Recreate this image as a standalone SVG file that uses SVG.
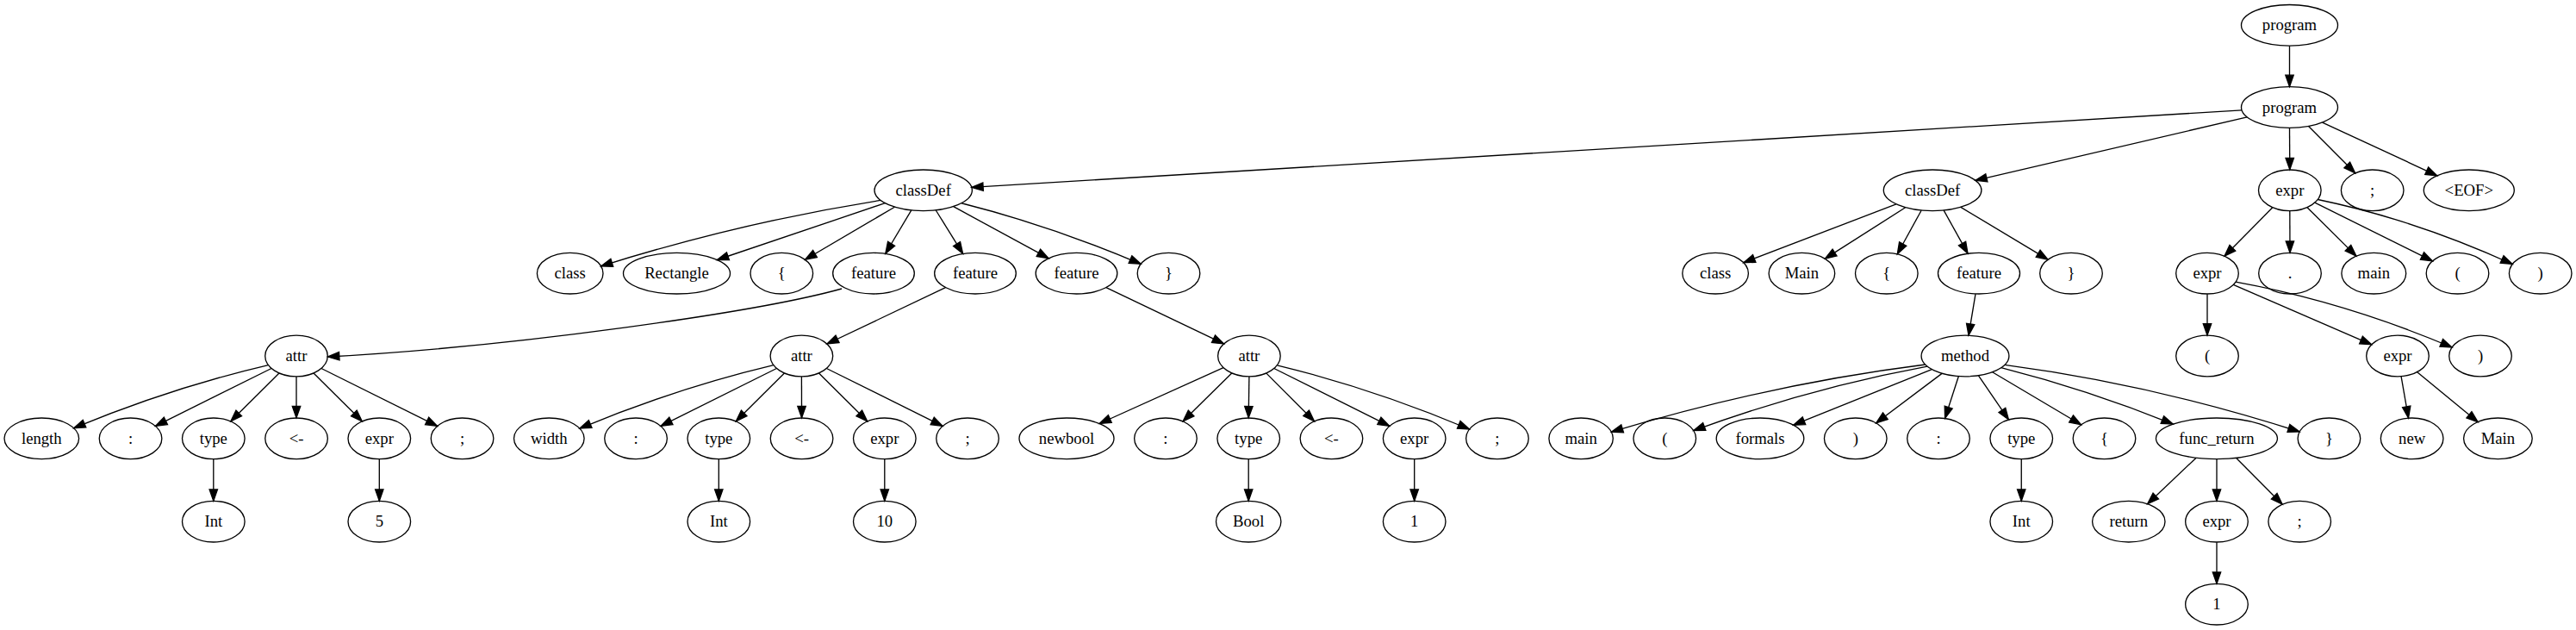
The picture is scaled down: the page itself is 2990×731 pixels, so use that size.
<svg xmlns="http://www.w3.org/2000/svg" width="2990" height="731" viewBox="0 0 2990 731">
<style>
.n ellipse{fill:none;stroke:#000;stroke-width:1.33}
.n text{font-family:"Liberation Serif","Times New Roman",serif;font-size:18.7px;text-anchor:middle;fill:#000}
#edges path{fill:none;stroke:#000;stroke-width:1.33;marker-end:url(#arr)}
</style>
<defs>
<marker id="arr" markerUnits="userSpaceOnUse" markerWidth="16" markerHeight="12" refX="13.3" refY="4.7" orient="auto" overflow="visible">
<path d="M0,0 L13.3,4.7 L0,9.4 Z" fill="#000" stroke="#000" stroke-width="1.33"/>
</marker>
</defs>
<rect width="2990" height="731" fill="#fff"/>
<g id="edges">
<path d="M2657.5,53.3 L2657.5,100.5"/>
<path d="M2602.05,127.86 L1127.83,217.4"/>
<path d="M2608.2,135.9 L2292.9,209.3"/>
<path d="M2657.5,148.5 L2657.8,196.8"/>
<path d="M2679.6,146.55 L2733.65,200.8"/>
<path d="M2695.6,142.1 L2828.8,203.8"/>
<path d="M1022.1,232.4 Q859.85,258 697.6,308.8"/>
<path d="M1027.25,235.7 L832.35,301.5"/>
<path d="M1038.4,240.2 L934.5,301.3"/>
<path d="M1057.7,244.1 L1027.8,294.25"/>
<path d="M1086.3,244 L1117.6,294.3"/>
<path d="M1106.7,239.7 L1217.1,299.7"/>
<path d="M1116.05,235.75 Q1220,262 1324.2,306.3"/>
<path d="M2200.9,236.9 L2023.8,304.7"/>
<path d="M2211.6,240.8 L2118.35,300.15"/>
<path d="M2230.1,244.2 L2202.3,294.7"/>
<path d="M2256.2,244.15 L2284,294.1"/>
<path d="M2275.9,240.4 L2377.05,301.1"/>
<path d="M2637.8,240.8 L2582,297.2"/>
<path d="M2657.8,244.8 L2658,293.2"/>
<path d="M2678,240.7 L2734.9,297.1"/>
<path d="M2686.9,235.15 L2823.4,302.85"/>
<path d="M2690.3,231.5 Q2803.25,255 2916.2,306.5"/>
<path d="M977,335 C880,362 600,402 380.5,414"/>
<path d="M1097.5,333.6 L960,399"/>
<path d="M1283.9,333.7 L1420.5,398.9"/>
<path d="M2293,341.1 L2285,389.1"/>
<path d="M2562,341.2 L2562,389"/>
<path d="M2592.3,330.4 L2752.7,399.8"/>
<path d="M2595,327.2 Q2720.5,350 2846,403"/>
<path d="M311.4,423.6 Q198.55,450 85.7,496.7"/>
<path d="M315,427.5 L180.5,494.3"/>
<path d="M324,433 L267.85,488.8"/>
<path d="M344,437 L344,484.8"/>
<path d="M364.05,433 L420.25,488.8"/>
<path d="M373,427.5 L507.55,494.3"/>
<path d="M897.9,423.7 Q785.4,450.4 672.9,497.1"/>
<path d="M901.4,427.5 L767,494.3"/>
<path d="M910.4,433 L854.3,488.8"/>
<path d="M930.4,437 L930.55,484.8"/>
<path d="M950.5,433 L1006.7,488.8"/>
<path d="M959.4,427.5 L1094.1,494.3"/>
<path d="M1419.95,426.6 L1276.2,491.5"/>
<path d="M1429.7,433 L1373.1,488.8"/>
<path d="M1449.9,437 L1449.2,484.8"/>
<path d="M1469.9,433.1 L1525.5,488.75"/>
<path d="M1478.8,427.5 L1612.8,494.3"/>
<path d="M1482.3,423.8 Q1593.9,450.9 1705.5,498"/>
<path d="M2234.7,423 Q2052.55,446 1870.4,501.2"/>
<path d="M2237.05,425.1 Q2101.4,450 1965.75,499.6"/>
<path d="M2242.3,428.6 L2081.65,493.2"/>
<path d="M2254,433.35 L2177.7,490.75"/>
<path d="M2273.3,436.7 L2257.6,485.3"/>
<path d="M2296.5,435.9 L2331.4,486.9"/>
<path d="M2312.6,431.8 L2415.5,492.8"/>
<path d="M2322.75,426.7 Q2422.5,452 2522.2,492.1"/>
<path d="M2326.9,423.4 Q2498,446 2669.1,501"/>
<path d="M2787.1,436.8 L2795.5,485"/>
<path d="M2805.7,431.7 L2876.2,489.7"/>
<path d="M247.8,532.8 L247.8,581.2"/>
<path d="M440.3,532.8 L440.3,581.2"/>
<path d="M834.3,532.8 L834.3,581.2"/>
<path d="M1026.8,532.8 L1026.8,581.2"/>
<path d="M1449.2,532.8 L1449.2,581.2"/>
<path d="M1641.7,532.8 L1641.7,581.2"/>
<path d="M2346.25,532.8 L2346.25,581.2"/>
<path d="M2548.9,531.4 L2492.65,584.7"/>
<path d="M2573,532.8 L2573,581.2"/>
<path d="M2595.7,531.5 L2649.1,585.2"/>
<path d="M2573,629.2 L2573,677.2"/>
</g>
<g id="program0" class="n"><ellipse cx="2657.5" cy="29.3" rx="56" ry="23.8"/><text x="2657.5" y="35.3">program</text></g>
<g id="program1" class="n"><ellipse cx="2657.5" cy="124.5" rx="56" ry="23.8"/><text x="2657.5" y="130.5">program</text></g>
<g id="classDef1" class="n"><ellipse cx="1071.7" cy="220.8" rx="56.7" ry="23.8"/><text x="1071.7" y="226.8">classDef</text></g>
<g id="classDef2" class="n"><ellipse cx="2243.1" cy="220.8" rx="56.8" ry="23.8"/><text x="2243.1" y="226.8">classDef</text></g>
<g id="expr_r2" class="n"><ellipse cx="2657.8" cy="220.8" rx="36.3" ry="23.8"/><text x="2657.8" y="226.8">expr</text></g>
<g id="semi_r2" class="n"><ellipse cx="2753.7" cy="220.8" rx="36.3" ry="23.8"/><text x="2753.7" y="226.8">;</text></g>
<g id="eof" class="n"><ellipse cx="2865.8" cy="220.8" rx="52.5" ry="23.8"/><text x="2865.8" y="226.8">&lt;EOF&gt;</text></g>
<g id="class1" class="n"><ellipse cx="661.7" cy="317.2" rx="38.3" ry="23.8"/><text x="661.7" y="323.2">class</text></g>
<g id="rectangle" class="n"><ellipse cx="785.5" cy="317.2" rx="62" ry="23.8"/><text x="785.5" y="323.2">Rectangle</text></g>
<g id="lbrace1" class="n"><ellipse cx="907.3" cy="317.2" rx="36.3" ry="23.8"/><text x="907.3" y="323.2">{</text></g>
<g id="feature1" class="n"><ellipse cx="1014" cy="317.2" rx="47.3" ry="23.8"/><text x="1014" y="323.2">feature</text></g>
<g id="feature2" class="n"><ellipse cx="1132" cy="317.2" rx="47.3" ry="23.8"/><text x="1132" y="323.2">feature</text></g>
<g id="feature3" class="n"><ellipse cx="1249.5" cy="317.2" rx="47.3" ry="23.8"/><text x="1249.5" y="323.2">feature</text></g>
<g id="rbrace1" class="n"><ellipse cx="1356.5" cy="317.2" rx="36.3" ry="23.8"/><text x="1356.5" y="323.2">}</text></g>
<g id="class2" class="n"><ellipse cx="1991.1" cy="317.2" rx="38.3" ry="23.8"/><text x="1991.1" y="323.2">class</text></g>
<g id="main_class" class="n"><ellipse cx="2091.4" cy="317.2" rx="38.3" ry="23.8"/><text x="2091.4" y="323.2">Main</text></g>
<g id="lbrace2" class="n"><ellipse cx="2189.8" cy="317.2" rx="36.3" ry="23.8"/><text x="2189.8" y="323.2">{</text></g>
<g id="feature4" class="n"><ellipse cx="2297" cy="317.2" rx="47.5" ry="23.8"/><text x="2297" y="323.2">feature</text></g>
<g id="rbrace2" class="n"><ellipse cx="2404" cy="317.2" rx="36.3" ry="23.8"/><text x="2404" y="323.2">}</text></g>
<g id="expr_r3" class="n"><ellipse cx="2562" cy="317.2" rx="36.3" ry="23.8"/><text x="2562" y="323.2">expr</text></g>
<g id="dot" class="n"><ellipse cx="2658" cy="317.2" rx="36.3" ry="23.8"/><text x="2658" y="323.2">.</text></g>
<g id="main_r3" class="n"><ellipse cx="2755.3" cy="317.2" rx="37.4" ry="23.8"/><text x="2755.3" y="323.2">main</text></g>
<g id="lparen_r3" class="n"><ellipse cx="2852.5" cy="317.2" rx="36.3" ry="23.8"/><text x="2852.5" y="323.2">(</text></g>
<g id="rparen_r3" class="n"><ellipse cx="2948.7" cy="317.2" rx="36.3" ry="23.8"/><text x="2948.7" y="323.2">)</text></g>
<g id="attr1" class="n"><ellipse cx="344" cy="413" rx="36.3" ry="23.8"/><text x="344" y="419">attr</text></g>
<g id="attr2" class="n"><ellipse cx="930.4" cy="413" rx="36.3" ry="23.8"/><text x="930.4" y="419">attr</text></g>
<g id="attr3" class="n"><ellipse cx="1449.9" cy="413" rx="36.3" ry="23.8"/><text x="1449.9" y="419">attr</text></g>
<g id="method" class="n"><ellipse cx="2281" cy="413" rx="50.9" ry="23.8"/><text x="2281" y="419">method</text></g>
<g id="lparen_r4" class="n"><ellipse cx="2562" cy="413" rx="36.3" ry="23.8"/><text x="2562" y="419">(</text></g>
<g id="expr_r4" class="n"><ellipse cx="2783" cy="413" rx="36.3" ry="23.8"/><text x="2783" y="419">expr</text></g>
<g id="rparen_r4" class="n"><ellipse cx="2879" cy="413" rx="36.3" ry="23.8"/><text x="2879" y="419">)</text></g>
<g id="length" class="n"><ellipse cx="48.3" cy="508.8" rx="43.3" ry="23.8"/><text x="48.3" y="514.8">length</text></g>
<g id="colon1" class="n"><ellipse cx="151.55" cy="508.8" rx="36.3" ry="23.8"/><text x="151.55" y="514.8">:</text></g>
<g id="type1" class="n"><ellipse cx="247.8" cy="508.8" rx="36.3" ry="23.8"/><text x="247.8" y="514.8">type</text></g>
<g id="assign1" class="n"><ellipse cx="344.05" cy="508.8" rx="36.3" ry="23.8"/><text x="344.05" y="514.8">&lt;-</text></g>
<g id="expr_a1" class="n"><ellipse cx="440.3" cy="508.8" rx="36.3" ry="23.8"/><text x="440.3" y="514.8">expr</text></g>
<g id="semi_a1" class="n"><ellipse cx="536.55" cy="508.8" rx="36.3" ry="23.8"/><text x="536.55" y="514.8">;</text></g>
<g id="width" class="n"><ellipse cx="637.3" cy="508.8" rx="40.8" ry="23.8"/><text x="637.3" y="514.8">width</text></g>
<g id="colon2" class="n"><ellipse cx="738.05" cy="508.8" rx="36.3" ry="23.8"/><text x="738.05" y="514.8">:</text></g>
<g id="type2" class="n"><ellipse cx="834.3" cy="508.8" rx="36.3" ry="23.8"/><text x="834.3" y="514.8">type</text></g>
<g id="assign2" class="n"><ellipse cx="930.55" cy="508.8" rx="36.3" ry="23.8"/><text x="930.55" y="514.8">&lt;-</text></g>
<g id="expr_a2" class="n"><ellipse cx="1026.8" cy="508.8" rx="36.3" ry="23.8"/><text x="1026.8" y="514.8">expr</text></g>
<g id="semi_a2" class="n"><ellipse cx="1123.05" cy="508.8" rx="36.3" ry="23.8"/><text x="1123.05" y="514.8">;</text></g>
<g id="newbool" class="n"><ellipse cx="1238" cy="508.8" rx="55" ry="23.8"/><text x="1238" y="514.8">newbool</text></g>
<g id="colon3" class="n"><ellipse cx="1352.95" cy="508.8" rx="36.3" ry="23.8"/><text x="1352.95" y="514.8">:</text></g>
<g id="type3" class="n"><ellipse cx="1449.2" cy="508.8" rx="36.3" ry="23.8"/><text x="1449.2" y="514.8">type</text></g>
<g id="assign3" class="n"><ellipse cx="1545.45" cy="508.8" rx="36.3" ry="23.8"/><text x="1545.45" y="514.8">&lt;-</text></g>
<g id="expr_a3" class="n"><ellipse cx="1641.7" cy="508.8" rx="36.3" ry="23.8"/><text x="1641.7" y="514.8">expr</text></g>
<g id="semi_a3" class="n"><ellipse cx="1737.95" cy="508.8" rx="36.3" ry="23.8"/><text x="1737.95" y="514.8">;</text></g>
<g id="main_m" class="n"><ellipse cx="1835.1" cy="508.8" rx="37.2" ry="23.8"/><text x="1835.1" y="514.8">main</text></g>
<g id="lparen_m" class="n"><ellipse cx="1932.25" cy="508.8" rx="36.3" ry="23.8"/><text x="1932.25" y="514.8">(</text></g>
<g id="formals" class="n"><ellipse cx="2043" cy="508.8" rx="50.8" ry="23.8"/><text x="2043" y="514.8">formals</text></g>
<g id="rparen_m" class="n"><ellipse cx="2153.75" cy="508.8" rx="36.3" ry="23.8"/><text x="2153.75" y="514.8">)</text></g>
<g id="colon_m" class="n"><ellipse cx="2250" cy="508.8" rx="36.3" ry="23.8"/><text x="2250" y="514.8">:</text></g>
<g id="type_m" class="n"><ellipse cx="2346.25" cy="508.8" rx="36.3" ry="23.8"/><text x="2346.25" y="514.8">type</text></g>
<g id="lbrace_m" class="n"><ellipse cx="2442.5" cy="508.8" rx="36.3" ry="23.8"/><text x="2442.5" y="514.8">{</text></g>
<g id="func_return" class="n"><ellipse cx="2572.95" cy="508.8" rx="70.5" ry="23.8"/><text x="2572.95" y="514.8">func_return</text></g>
<g id="rbrace_m" class="n"><ellipse cx="2703.4" cy="508.8" rx="36.3" ry="23.8"/><text x="2703.4" y="514.8">}</text></g>
<g id="new" class="n"><ellipse cx="2799.65" cy="508.8" rx="36.3" ry="23.8"/><text x="2799.65" y="514.8">new</text></g>
<g id="main_new" class="n"><ellipse cx="2899.4" cy="508.8" rx="39.8" ry="23.8"/><text x="2899.4" y="514.8">Main</text></g>
<g id="int1" class="n"><ellipse cx="247.8" cy="605.2" rx="36.3" ry="23.8"/><text x="247.8" y="611.2">Int</text></g>
<g id="five" class="n"><ellipse cx="440.3" cy="605.2" rx="36.3" ry="23.8"/><text x="440.3" y="611.2">5</text></g>
<g id="int2" class="n"><ellipse cx="834.3" cy="605.2" rx="36.3" ry="23.8"/><text x="834.3" y="611.2">Int</text></g>
<g id="ten" class="n"><ellipse cx="1026.8" cy="605.2" rx="36.3" ry="23.8"/><text x="1026.8" y="611.2">10</text></g>
<g id="bool" class="n"><ellipse cx="1449.2" cy="605.2" rx="37.7" ry="23.8"/><text x="1449.2" y="611.2">Bool</text></g>
<g id="one1" class="n"><ellipse cx="1641.7" cy="605.2" rx="36.3" ry="23.8"/><text x="1641.7" y="611.2">1</text></g>
<g id="int3" class="n"><ellipse cx="2346.25" cy="605.2" rx="36.3" ry="23.8"/><text x="2346.25" y="611.2">Int</text></g>
<g id="return" class="n"><ellipse cx="2470.8" cy="605.2" rx="42.2" ry="23.8"/><text x="2470.8" y="611.2">return</text></g>
<g id="expr_r6" class="n"><ellipse cx="2573" cy="605.2" rx="36.3" ry="23.8"/><text x="2573" y="611.2">expr</text></g>
<g id="semi_r6" class="n"><ellipse cx="2669.2" cy="605.2" rx="36.3" ry="23.8"/><text x="2669.2" y="611.2">;</text></g>
<g id="one2" class="n"><ellipse cx="2573" cy="701.2" rx="36.3" ry="23.8"/><text x="2573" y="707.2">1</text></g>
</svg>
